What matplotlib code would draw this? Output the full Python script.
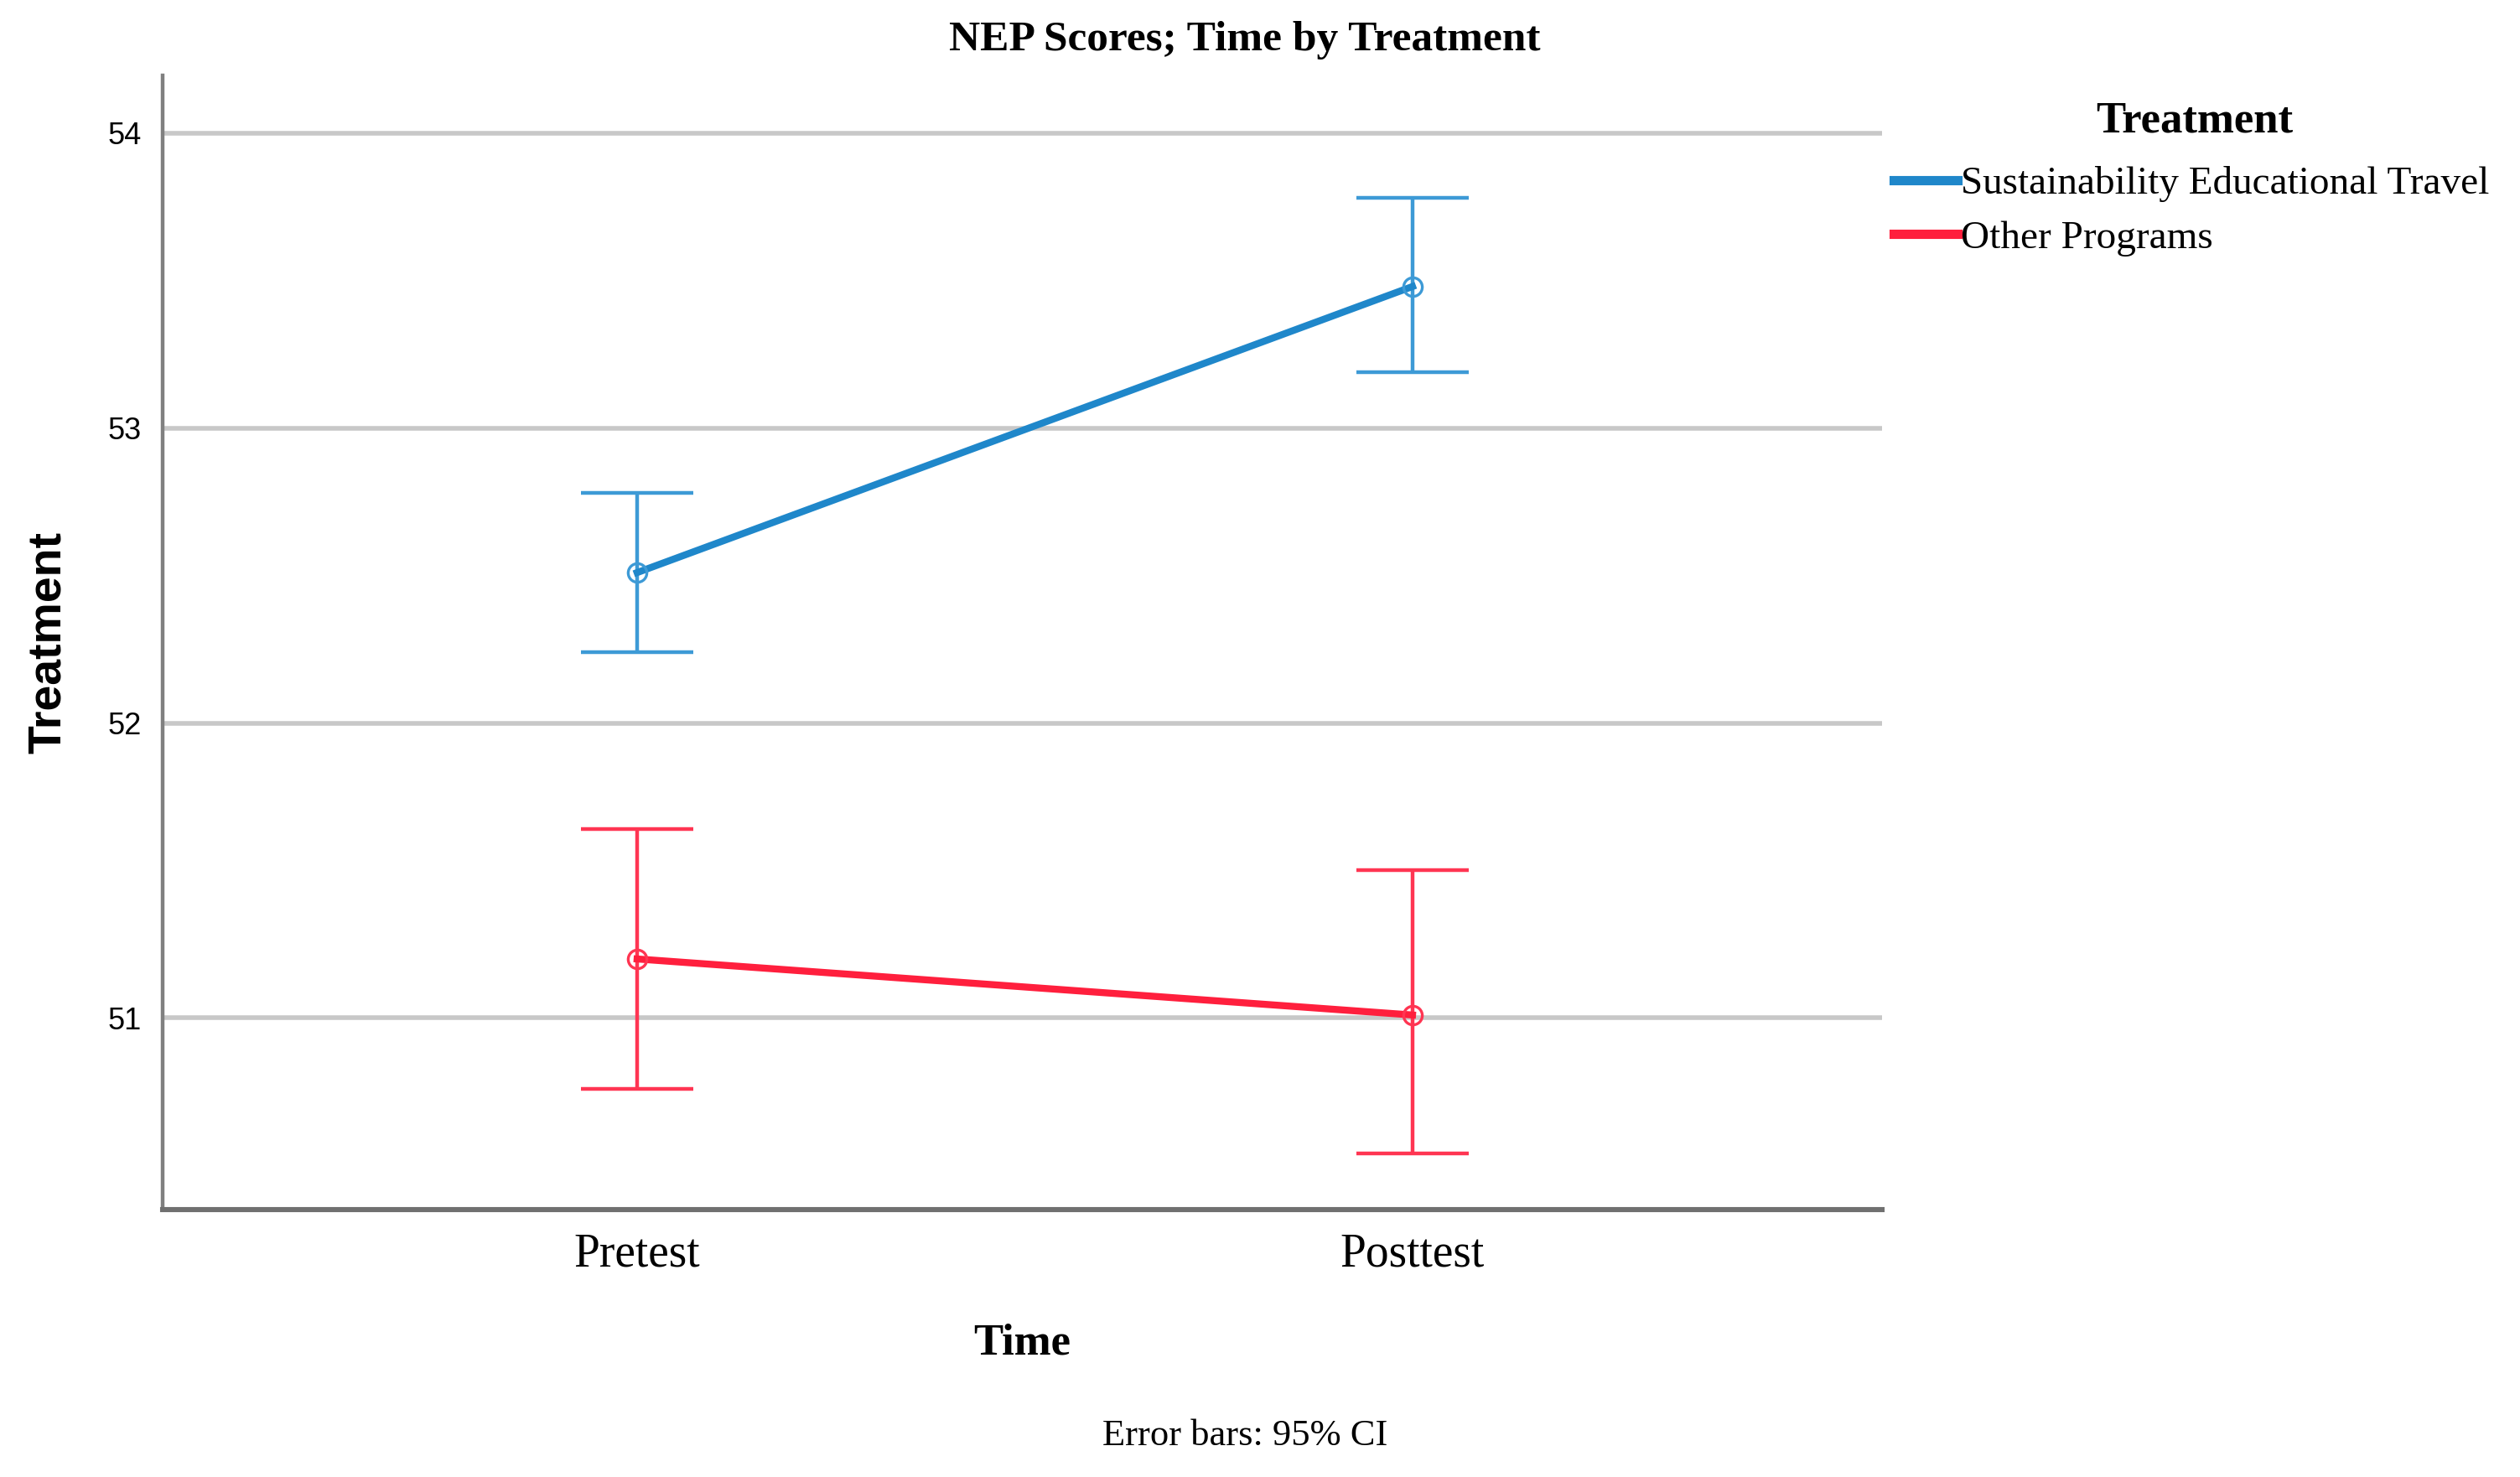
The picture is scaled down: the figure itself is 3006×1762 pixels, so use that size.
import matplotlib
matplotlib.use("Agg")
import matplotlib.pyplot as plt
from matplotlib.lines import Line2D

times = ["Pretest", "Posttest"]
groups = ["Sustainability Educational Travel", "Other Programs"]
means = {
    "Sustainability Educational Travel": [52.51, 53.48],
    "Other Programs": [51.20, 51.01],
}
ci_low = {
    "Sustainability Educational Travel": [52.24, 53.19],
    "Other Programs": [50.76, 50.54],
}
ci_high = {
    "Sustainability Educational Travel": [52.78, 53.78],
    "Other Programs": [51.64, 51.50],
}
yticks = [51, 52, 53, 54]

line_colors = {"Sustainability Educational Travel": "#1F87CA", "Other Programs": "#FF1F3D"}
err_colors = {"Sustainability Educational Travel": "#3D9AD6", "Other Programs": "#FF3552"}

serif = ["Liberation Serif", "DejaVu Serif"]
sans = ["Liberation Sans", "DejaVu Sans"]

fig = plt.figure(figsize=(15.03, 8.81), dpi=200)
ax = fig.add_axes([0.0645, 0.181, 0.6825, 0.768])

x = list(range(len(times)))
for g in groups:
    m = means[g]
    lo = [mm - l for mm, l in zip(m, ci_low[g])]
    hi = [h - mm for mm, h in zip(m, ci_high[g])]
    ax.errorbar(x, m, yerr=[lo, hi], fmt="none", ecolor=err_colors[g],
                elinewidth=1.6, capsize=24, capthick=1.6, zorder=3)
    ax.plot(x, m, color=line_colors[g], lw=3.0, zorder=4)
    ax.plot(x, m, linestyle="none", marker="o", markersize=8, markerfacecolor="none",
            markeredgecolor=err_colors[g], markeredgewidth=1.2, zorder=5)

ax.set_xlim(-0.612, 1.606)
ax.set_ylim(50.35, 54.196)
ax.set_yticks(yticks)
ax.set_yticklabels([str(t) for t in yticks], family=["Liberation Sans Narrow", "Liberation Sans", "DejaVu Sans"], fontsize=13)
ax.set_xticks(x)
ax.set_xticklabels(times, family=serif, fontsize=20)
ax.tick_params(axis="both", length=0)
ax.tick_params(axis="x", pad=10)
ax.tick_params(axis="y", pad=9)

ax.grid(axis="y", color="#C8C8C8", lw=2.0, zorder=0)
ax.set_axisbelow(True)
for s in ["top", "right"]:
    ax.spines[s].set_visible(False)
ax.spines["left"].set_color("#808080")
ax.spines["bottom"].set_color("#707070")
ax.spines["left"].set_linewidth(1.6)
ax.spines["bottom"].set_linewidth(2.2)

ax.set_xlabel("Time", family=serif, fontsize=19, fontweight="bold", labelpad=20)
ax.set_ylabel("Treatment", family=sans, fontsize=20, fontweight="bold", labelpad=16)

fig.text(0.494, 0.973, "NEP Scores; Time by Treatment", family=serif, fontsize=18.5,
         fontweight="bold", ha="center", va="center")
fig.text(0.494, 0.028, "Error bars: 95% CI", family=serif, fontsize=16,
         ha="center", va="center")

fig.text(0.871, 0.918, "Treatment", family=serif, fontsize=19, fontweight="bold",
         ha="center", va="center")
handles = [Line2D([0], [0], color=line_colors[g], lw=4) for g in groups]
leg = fig.legend(handles, groups, loc="center left", bbox_to_anchor=(0.7515, 0.857),
                 frameon=False, prop={"family": serif, "size": 17},
                 handlelength=1.6, handletextpad=0.1, labelspacing=0.45, borderaxespad=0,
                 borderpad=0)

fig.savefig("out.png", dpi=200)
